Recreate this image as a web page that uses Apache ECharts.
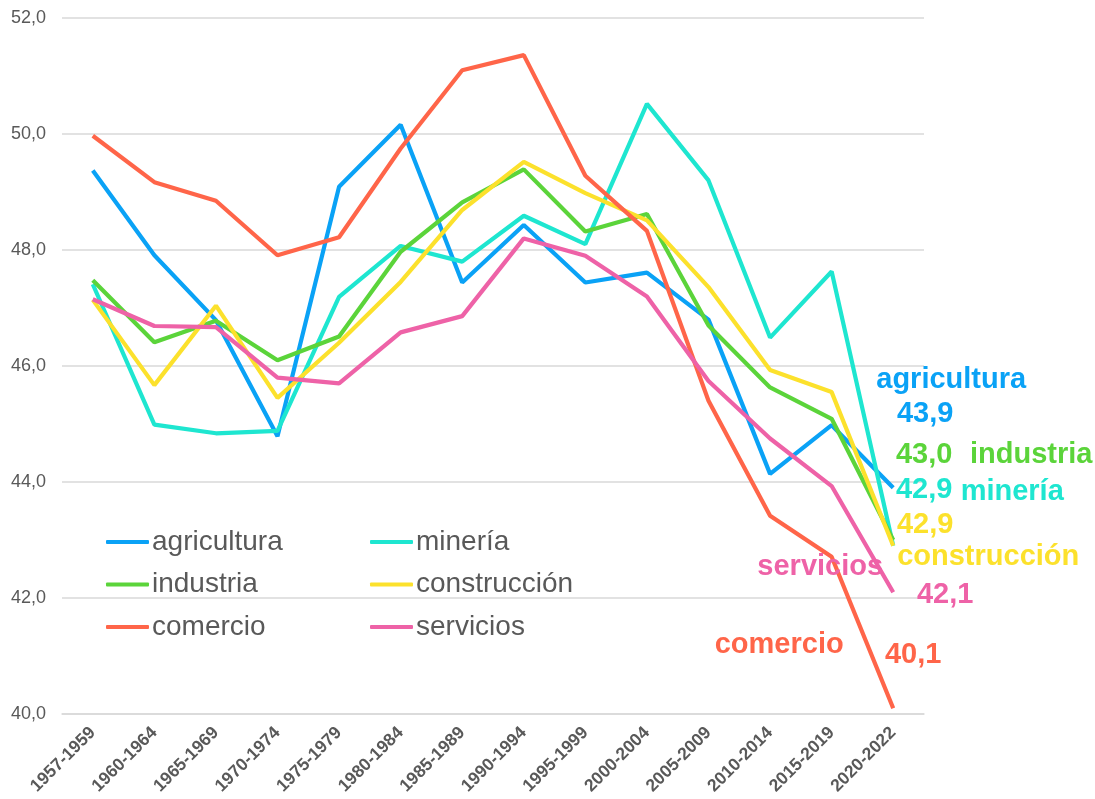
<!DOCTYPE html>
<html>
<head>
<meta charset="utf-8">
<script src="https://cdn.jsdelivr.net/npm/echarts@6/dist/echarts.min.js"></script>
<style>
  html, body { margin: 0; padding: 0; background: #fff; }
  #chart { width: 1095px; height: 799px; }
</style>
</head>
<body>
<div id="chart"></div>
<script>
// periodos
const categories = ['1957-1959', '1960-1964', '1965-1969', '1970-1974', '1975-1979', '1980-1984', '1985-1989',
    '1990-1994', '1995-1999', '2000-2004', '2005-2009', '2010-2014', '2015-2019', '2020-2022'];

const agricultura = [49.37, 47.91, 46.79, 44.79, 49.09, 50.16, 47.44, 48.43, 47.44, 47.61, 46.80, 44.14, 44.98, 43.9];
const mineria = [47.41, 44.99, 44.84, 44.88, 47.19, 48.07, 47.80, 48.59, 48.10, 50.52, 49.20, 46.49, 47.63, 42.9];
const industria = [47.48, 46.41, 46.78, 46.10, 46.51, 47.97, 48.82, 49.39, 48.32, 48.62, 46.70, 45.63, 45.09, 43.0];
const construccion = [47.14, 45.67, 47.04, 45.45, 46.40, 47.45, 48.69, 49.52, 48.98, 48.51, 47.36, 45.93, 45.55, 42.9];
const comercio = [49.97, 49.17, 48.85, 47.91, 48.22, 49.75, 51.10, 51.36, 49.28, 48.33, 45.40, 43.42, 42.71, 40.1];
const servicios = [47.15, 46.69, 46.67, 45.80, 45.70, 46.58, 46.86, 48.20, 47.90, 47.20, 45.74, 44.75, 43.93, 42.1];

const yTicks = { min: 40, max: 52, interval: 2 };

const FONT = '"Liberation Sans", Arial, sans-serif';
const fmt = (v) => v.toFixed(1).replace('.', ',');

// nombre, datos, color, desplazamiento etiqueta nombre, desplazamiento etiqueta valor
const seriesDefs = [
    { name: 'agricultura', data: agricultura, color: '#0aa2f6', nameOff: [58, -108], valOff: [32, -74] },
    { name: 'minería', data: mineria, color: '#1ee6d0', nameOff: [119, -54], valOff: [31, -56] },
    { name: 'industria', data: industria, color: '#5bd43a', nameOff: [138, -85], valOff: [31, -85] },
    { name: 'construcción', data: construccion, color: '#fce12c', nameOff: [95, 11], valOff: [32, -21] },
    { name: 'comercio', data: comercio, color: '#ff6549', nameOff: [-114, -63], valOff: [20, -53] },
    { name: 'servicios', data: servicios, color: '#ee62a7', nameOff: [-73, -25], valOff: [52, 3] },
];

const chart = echarts.init(document.getElementById('chart'), null, { renderer: 'canvas' });

const last = categories.length - 1;
const series = seriesDefs.map((s) => ({
    name: s.name,
    type: 'line',
    data: s.data,
    symbol: 'none',
    smooth: false,
    lineStyle: { width: 4.2, color: s.color },
    itemStyle: { color: s.color },
    emphasis: { disabled: true },
    markPoint: {
        symbol: 'circle',
        symbolSize: 1,
        itemStyle: { color: 'rgba(0,0,0,0)' },
        silent: true,
        data: [
            { coord: [last, s.data[last]], label: { offset: s.nameOff, formatter: s.name } },
            { coord: [last, s.data[last]], label: { offset: s.valOff, formatter: fmt(s.data[last]) } },
        ],
        label: {
            show: true,
            position: 'inside',
            color: s.color,
            fontFamily: FONT,
            fontWeight: 'bold',
            fontSize: 29,
        },
    },
}));

const legendCommon = {
    orient: 'vertical',
    top: 523,
    itemWidth: 43,
    itemHeight: 4,
    itemGap: 14.5,
    icon: 'roundRect',
    selectedMode: false,
    textStyle: { color: '#595959', fontSize: 28, fontFamily: FONT, padding: [0, 0, 0, -2] },
};

chart.setOption({
    animation: false,
    backgroundColor: '#fff',
    grid: { left: 62, right: 171, top: 18, bottom: 85, containLabel: false },
    legend: [
        Object.assign({ left: 101, data: ['agricultura', 'industria', 'comercio'] }, legendCommon),
        Object.assign({ left: 365, data: ['minería', 'construcción', 'servicios'] }, legendCommon),
    ],
    xAxis: {
        type: 'category',
        data: categories,
        boundaryGap: true,
        axisLine: { show: true, lineStyle: { color: '#d9d9d9', width: 1.5 } },
        axisTick: { show: false },
        axisLabel: {
            rotate: 45,
            interval: 0,
            margin: 16,
            color: '#595959',
            fontWeight: 'bold',
            fontSize: 17.5,
            fontFamily: FONT,
        },
    },
    yAxis: {
        type: 'value',
        min: yTicks.min,
        max: yTicks.max,
        interval: yTicks.interval,
        axisLine: { show: false },
        axisTick: { show: false },
        splitLine: { lineStyle: { color: '#d9d9d9', width: 1.5 } },
        axisLabel: {
            margin: 16,
            color: '#595959',
            fontSize: 18,
            fontFamily: FONT,
            formatter: fmt,
        },
    },
    series: series,
});
</script>
</body>
</html>
